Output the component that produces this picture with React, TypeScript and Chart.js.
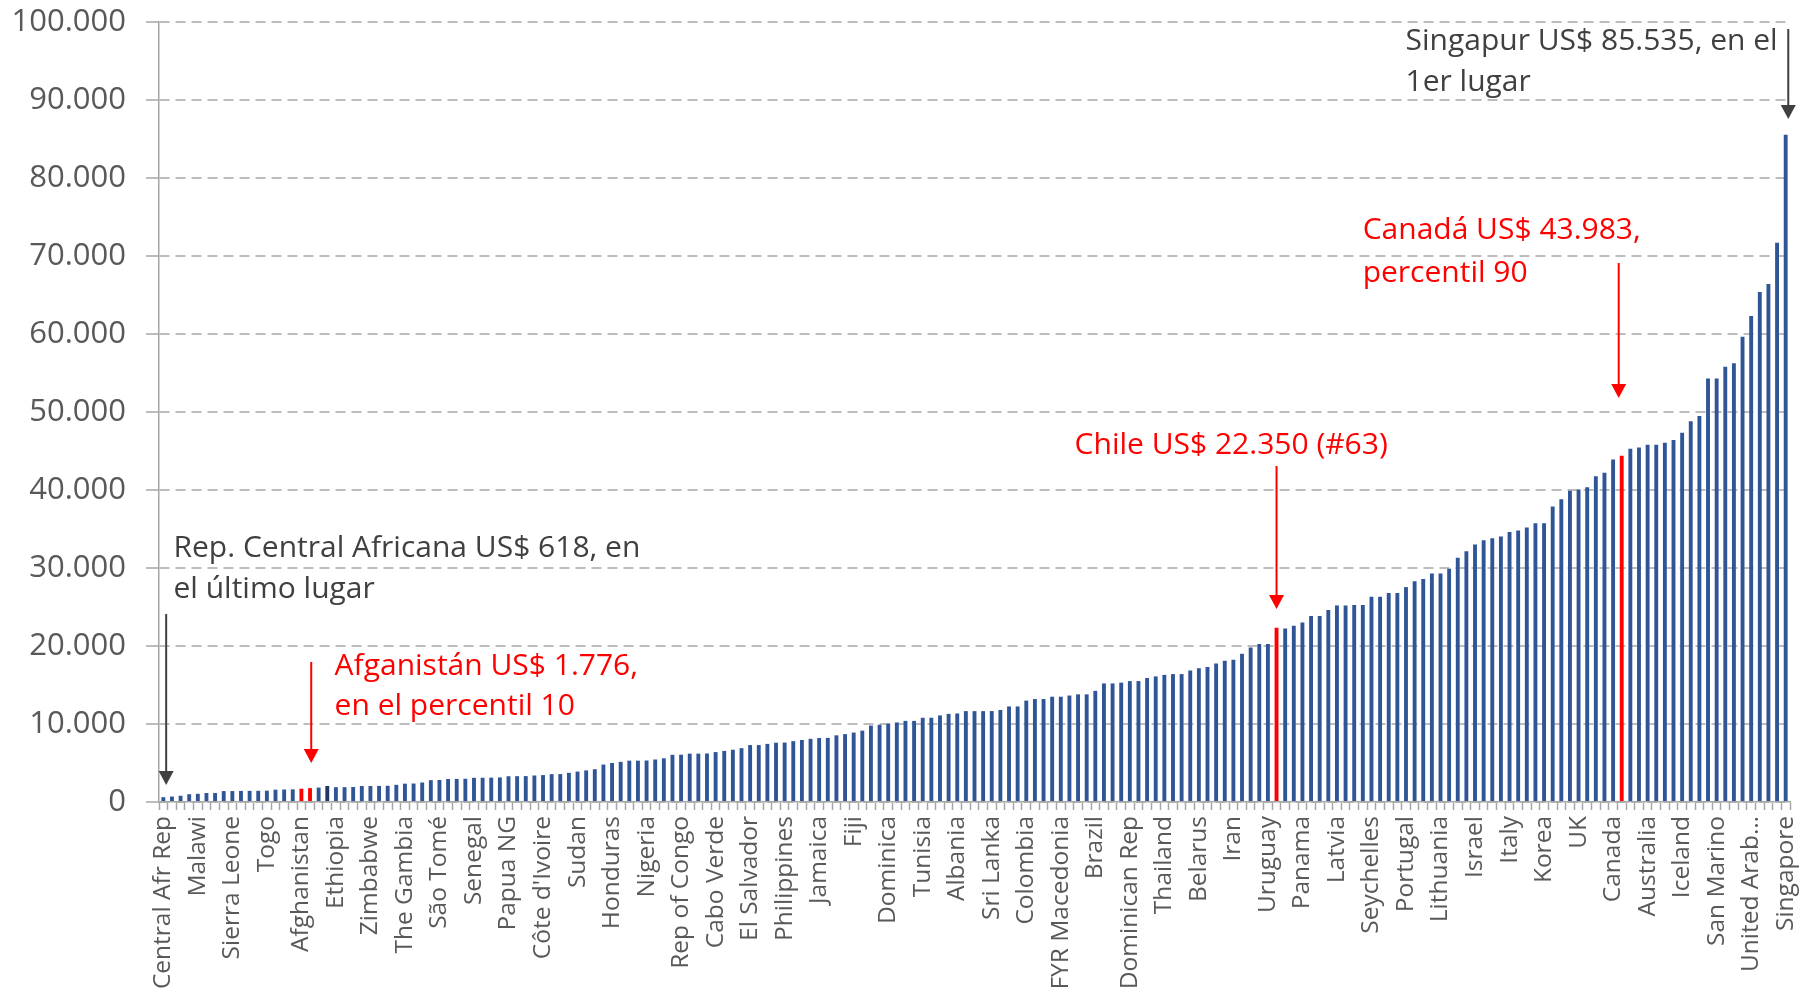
import React, { useEffect, useRef } from "react";
import { Chart, registerables } from "chart.js";

Chart.register(...registerables);

// Countries that carry a visible tick label (every 4th bar, from the poorest)
const labeledCountries = [
  "Central Afr Rep", "Malawi", "Sierra Leone", "Togo", "Afghanistan", "Ethiopia",
  "Zimbabwe", "The Gambia", "São Tomé", "Senegal", "Papua NG", "Côte d'Ivoire",
  "Sudan", "Honduras", "Nigeria", "Rep of Congo", "Cabo Verde", "El Salvador",
  "Philippines", "Jamaica", "Fiji", "Dominica", "Tunisia", "Albania",
  "Sri Lanka", "Colombia", "FYR Macedonia", "Brazil", "Dominican Rep", "Thailand",
  "Belarus", "Iran", "Uruguay", "Panama", "Latvia", "Seychelles",
  "Portugal", "Lithuania", "Israel", "Italy", "Korea", "UK",
  "Canada", "Australia", "Iceland", "San Marino", "United Arab…", "Singapore",
];
const labelEvery = 4;

// GDP per capita (US$), sorted ascending, one value per country bar
const gdpValues = [
  618, 700, 800, 1000, 1050, 1150, 1150, 1400, 1400, 1420,
  1430, 1440, 1450, 1580, 1600, 1620, 1700, 1776, 1850, 2050,
  1900, 1900, 1920, 2050, 2050, 2060, 2080, 2200, 2350, 2370,
  2500, 2800, 2820, 2950, 2960, 2980, 3100, 3110, 3120, 3150,
  3300, 3310, 3320, 3400, 3450, 3570, 3580, 3740, 3900, 4050,
  4200, 4800, 5000, 5150, 5300, 5300, 5320, 5450, 5600, 6050,
  6060, 6200, 6200, 6220, 6400, 6550, 6700, 6900, 7300, 7300,
  7450, 7600, 7620, 7800, 7950, 8100, 8200, 8220, 8550, 8700,
  8900, 9150, 9800, 9900, 10050, 10200, 10400, 10400, 10800, 10800,
  11100, 11300, 11350, 11650, 11650, 11650, 11660, 11800, 12250, 12250,
  13000, 13200, 13200, 13500, 13500, 13650, 13800, 13800, 14250, 15200,
  15200, 15300, 15500, 15500, 15900, 16100, 16300, 16400, 16400, 16850,
  17150, 17300, 17750, 18100, 18250, 19000, 19800, 20250, 20250, 22350,
  22250, 22600, 23000, 23850, 23850, 24600, 25200, 25200, 25250, 25250,
  26300, 26300, 26800, 26800, 27550, 28300, 28600, 29300, 29300, 29900,
  31300, 32150, 33000, 33550, 33800, 34050, 34600, 34800, 35200, 35750,
  35750, 37900, 38800, 39900, 40050, 40350, 41750, 42200, 43900, 44400,
  45300, 45450, 45800, 45800, 46050, 46400, 47350, 48800, 49500, 54300,
  54300, 55800, 56250, 59650, 62300, 65400, 66400, 71700, 85535,
];

const redBars = [16, 17, 129, 169];
const darkBars = [19];

const yMin = 0;
const yMax = 100000;
const yStep = 10000;

// Annotations in data space (bar index, value)
const notes = [
  { lines: ["Singapur US$ 85.535, en el", "1er lugar"], x: 143.95, y: [97470, 92270], color: "#404040" },
  { lines: ["Canadá US$ 43.983,", "percentil 90"], x: 138.98, y: [73260, 67760], color: "#FF0000" },
  { lines: ["Chile US$ 22.350 (#63)"], x: 105.6, y: [45770], color: "#FF0000" },
  { lines: ["Rep. Central Africana US$ 618, en", "el último lugar"], x: 1.18, y: [32560, 27200], color: "#404040" },
  { lines: ["Afganistán US$ 1.776,", "en el percentil 10"], x: 19.85, y: [17400, 12190], color: "#FF0000" },
];
const arrows = [
  { x: 188.3, from: 99100, to: 87560, color: "#404040" },
  { x: 168.65, from: 69100, to: 51800, color: "#FF0000" },
  { x: 129.0, from: 43080, to: 24740, color: "#FF0000" },
  { x: 17.14, from: 17950, to: 5000, color: "#FF0000" },
  { x: 0.33, from: 24100, to: 2180, color: "#404040" },
];

const categories = gdpValues.map((_, i) =>
  i % labelEvery === 0 ? labeledCountries[i / labelEvery] ?? "" : ""
);

const FONT = '"Open Sans", "DejaVu Sans", sans-serif';

const formatThousands = (v: number) =>
  String(Math.round(v)).replace(/\B(?=(\d{3})+(?!\d))/g, ".");

const annotationPlugin = {
  id: "annotations",
  afterDraw(chart: any) {
    const { ctx } = chart;
    const xs = chart.scales.x;
    const ys = chart.scales.y;
    ctx.save();
    for (const a of arrows) {
      const px = xs.getPixelForValue(a.x);
      const y0 = ys.getPixelForValue(a.from);
      const y1 = ys.getPixelForValue(a.to);
      const head = 14;
      ctx.strokeStyle = a.color;
      ctx.fillStyle = a.color;
      ctx.lineWidth = 2;
      ctx.beginPath();
      ctx.moveTo(px, y0);
      ctx.lineTo(px, y1 - head + 1);
      ctx.stroke();
      ctx.beginPath();
      ctx.moveTo(px - 7.5, y1 - head);
      ctx.lineTo(px + 7.5, y1 - head);
      ctx.lineTo(px, y1);
      ctx.closePath();
      ctx.fill();
    }
    ctx.font = `30px ${FONT}`;
    ctx.textAlign = "left";
    ctx.textBaseline = "middle";
    for (const n of notes) {
      const px = xs.getPixelForValue(n.x);
      ctx.fillStyle = n.color;
      n.lines.forEach((line, i) => {
        ctx.fillText(line, px, ys.getPixelForValue(n.y[i]));
      });
    }
    ctx.restore();
  },
};

export default function App() {
  const canvasRef = useRef<HTMLCanvasElement | null>(null);

  useEffect(() => {
    if (!canvasRef.current) return;
    const colors = gdpValues.map((_, i) =>
      redBars.includes(i) ? "#FF0000" : darkBars.includes(i) ? "#1F3864" : "#2F5597"
    );
    const chart = new Chart(canvasRef.current, {
      type: "bar",
      data: {
        labels: categories,
        datasets: [
          {
            data: gdpValues,
            backgroundColor: colors,
            borderWidth: 0,
            categoryPercentage: 1,
            barPercentage: 0.45,
          },
        ],
      },
      options: {
        animation: false,
        responsive: true,
        maintainAspectRatio: false,
        layout: { padding: { top: 22, right: 27, bottom: 0, left: 0 } },
        plugins: { legend: { display: false }, tooltip: { enabled: false } },
        scales: {
          x: {
            offset: true,
            grid: {
              display: true,
              drawOnChartArea: false,
              drawTicks: true,
              tickLength: 8,
              tickColor: "#A6A6A6",
              tickWidth: 1.5,
            },
            border: { display: true, color: "#A6A6A6", width: 1.5 },
            ticks: {
              autoSkip: false,
              maxRotation: 90,
              minRotation: 90,
              padding: 6,
              color: "#595959",
              font: { family: FONT, size: 24.5 },
            },
            afterFit(scale: any) {
              scale.height = 191;
              scale.paddingLeft = 0;
              scale.paddingRight = 0;
            },
          },
          y: {
            min: yMin,
            max: yMax,
            ticks: {
              stepSize: yStep,
              padding: 20,
              color: "#595959",
              font: { family: FONT, size: 31 },
              callback: (v: any) => formatThousands(Number(v)),
            },
            grid: {
              color: "#BDBDBD",
              lineWidth: 2,
              drawTicks: true,
              tickLength: 13,
              tickColor: "#A6A6A6",
              tickWidth: 1.5,
              tickBorderDash: [],
            } as any,
            border: { display: true, color: "#A6A6A6", width: 1.5, dash: [10, 6] },
            afterFit(scale: any) {
              scale.width = 159;
              scale.paddingTop = 0;
              scale.paddingBottom = 0;
            },
          },
        },
      },
      plugins: [annotationPlugin],
    });
    return () => chart.destroy();
  }, []);

  return (
    <div
      style={{
        position: "fixed",
        left: 0,
        top: 0,
        width: 1817,
        height: 993,
        background: "#ffffff",
      }}
    >
      <canvas ref={canvasRef} />
    </div>
  );
}
